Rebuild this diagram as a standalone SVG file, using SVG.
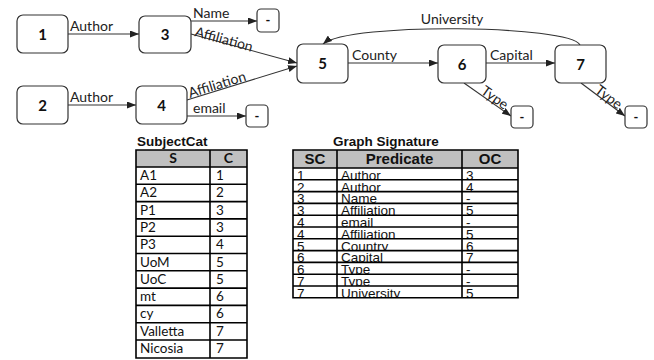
<svg xmlns="http://www.w3.org/2000/svg" width="654" height="360" viewBox="0 0 654 360">
  <style>
    .node rect { fill: #ffffff; stroke: #333333; stroke-width: 1.2; }
    .node text { font-family: Lato, "Open Sans", sans-serif; font-weight: bold; font-size: 15px; fill: #111111; text-anchor: middle; }
    .leaf text { font-size: 13px; }
    .edge { fill: none; stroke: #333333; stroke-width: 1.1; marker-end: url(#arrow); }
    .elabel { font-family: Lato, "Open Sans", sans-serif; font-size: 14px; fill: #222222; }
    .title { font-family: "Liberation Sans", Arial, sans-serif; font-weight: bold; font-size: 13.5px; fill: #111111; }
    .hdr { fill: #c0c0c0; }
    .grid { fill: none; stroke: #000000; stroke-width: 1.6; }
    .sc { font-family: Lato, "Open Sans", sans-serif; font-size: 13.5px; fill: #111111; }
    .sch { font-family: Lato, "Open Sans", sans-serif; font-weight: bold; font-size: 14px; fill: #111111; text-anchor: middle; }
    .gs { font-family: "Liberation Sans", Arial, sans-serif; font-size: 13.5px; fill: #111111; }
    .gs rect { fill: #ffffff; }
    .gsh { font-family: "Liberation Sans", Arial, sans-serif; font-weight: bold; font-size: 15px; fill: #111111; text-anchor: middle; }
  </style>
  <defs>
    <marker id="arrow" markerUnits="userSpaceOnUse" markerWidth="9" markerHeight="7" refX="9" refY="3.5" orient="auto">
      <path d="M0,0 L9,3.5 L0,7 z" fill="#222222"/>
    </marker>
  </defs>

  <rect width="654" height="360" fill="#ffffff"/>

  <!-- connectors -->
  <g id="connectors">
    <path class="edge" d="M68,34 H139"/>
    <path class="edge" d="M68,105 H136"/>
    <path class="edge" d="M191,21 H257"/>
    <path class="edge" d="M191,34 L297,63"/>
    <path class="edge" d="M187,100 L297,66"/>
    <path class="edge" d="M187,116 H246"/>
    <path class="edge" d="M348,63 H438"/>
    <path class="edge" d="M486,63 H555"/>
    <path class="edge" d="M464,83 L511,116"/>
    <path class="edge" d="M581,83 L625,116"/>
    <path class="edge" d="M580,45 C570,25 350,22 323,44"/>

    <text class="elabel" x="70" y="31">Author</text>
    <text class="elabel" x="70" y="102">Author</text>
    <text class="elabel" x="193" y="18">Name</text>
    <text class="elabel" transform="translate(194,36) rotate(15.3)">Affiliation</text>
    <text class="elabel" transform="translate(190,98) rotate(-17.2)">Affiliation</text>
    <text class="elabel" x="193" y="113">email</text>
    <text class="elabel" x="352" y="60">County</text>
    <text class="elabel" x="490" y="60">Capital</text>
    <text class="elabel" x="452" y="24" text-anchor="middle">University</text>
    <text class="elabel" transform="translate(480,93) rotate(35)">Type</text>
    <text class="elabel" transform="translate(594,92) rotate(37)">Type</text>
  </g>

  <!-- nodes -->
  <g id="n1" class="node"><rect x="17" y="15" width="51" height="38" rx="6"/><text x="42.5" y="40">1</text></g>
  <g id="n3" class="node"><rect x="139" y="16" width="52" height="37" rx="6"/><text x="165" y="40">3</text></g>
  <g id="n2" class="node"><rect x="17" y="86" width="51" height="38" rx="6"/><text x="42.5" y="111">2</text></g>
  <g id="n4" class="node"><rect x="136" y="86" width="51" height="38" rx="6"/><text x="161.5" y="111">4</text></g>
  <g id="n5" class="node"><rect x="297" y="44" width="51" height="39" rx="6"/><text x="322.5" y="69">5</text></g>
  <g id="n6" class="node"><rect x="438" y="45" width="48" height="38" rx="6"/><text x="462" y="70">6</text></g>
  <g id="n7" class="node"><rect x="555" y="45" width="51" height="38" rx="6"/><text x="580.5" y="70">7</text></g>
  <g id="name-val" class="node leaf"><rect x="257" y="9" width="22" height="23" rx="4"/><text x="268" y="25">-</text></g>
  <g id="email-val" class="node leaf"><rect x="246" y="105" width="22" height="22" rx="4"/><text x="257" y="121">-</text></g>
  <g id="type6-val" class="node leaf"><rect x="511" y="106" width="22" height="22" rx="4"/><text x="522" y="122">-</text></g>
  <g id="type7-val" class="node leaf"><rect x="625" y="106" width="22" height="22" rx="4"/><text x="636" y="122">-</text></g>

  <!-- SubjectCat table -->
  <g id="subjectcat">
    <text class="title" x="137" y="146">SubjectCat</text>
    <rect class="hdr" x="136" y="150" width="111" height="17"/>
    <text class="sch" x="173" y="163">S</text>
    <text class="sch" x="228.5" y="163">C</text>
    <g class="sc">
      <text x="140" y="180">A1</text><text x="216" y="180">1</text>
      <text x="140" y="197.3">A2</text><text x="216" y="197.3">2</text>
      <text x="140" y="214.6">P1</text><text x="216" y="214.6">3</text>
      <text x="140" y="231.9">P2</text><text x="216" y="231.9">3</text>
      <text x="140" y="249.2">P3</text><text x="216" y="249.2">4</text>
      <text x="140" y="266.5">UoM</text><text x="216" y="266.5">5</text>
      <text x="140" y="283.8">UoC</text><text x="216" y="283.8">5</text>
      <text x="140" y="301.1">mt</text><text x="216" y="301.1">6</text>
      <text x="140" y="318.4">cy</text><text x="216" y="318.4">6</text>
      <text x="140" y="335.7">Valletta</text><text x="216" y="335.7">7</text>
      <text x="140" y="353">Nicosia</text><text x="216" y="353">7</text>
    </g>
    <path class="grid" d="M136,150 H247 V358 H136 Z M210,150 V358 M136,167 H247 M136,184.3 H247 M136,201.6 H247 M136,218.9 H247 M136,236.2 H247 M136,253.5 H247 M136,270.8 H247 M136,288.1 H247 M136,305.4 H247 M136,322.7 H247 M136,340 H247"/>
  </g>

  <!-- Graph Signature table: each row's white band hides the descenders of the row above -->
  <g id="graph-signature">
    <text class="title" x="333" y="146">Graph Signature</text>
    <rect class="hdr" x="293" y="150" width="225" height="18"/>
    <text class="gsh" x="315" y="164">SC</text>
    <text class="gsh" x="399.5" y="164">Predicate</text>
    <text class="gsh" x="490" y="164">OC</text>
    <g class="gs">
      <rect x="293" y="168" width="225" height="11.8"/>
      <text x="297" y="179.8">1</text><text x="341" y="179.8">Author</text><text x="466" y="179.8">3</text>
      <rect x="293" y="179.8" width="225" height="11.8"/>
      <text x="297" y="191.6">2</text><text x="341" y="191.6">Author</text><text x="466" y="191.6">4</text>
      <rect x="293" y="191.6" width="225" height="11.8"/>
      <text x="297" y="203.4">3</text><text x="341" y="203.4">Name</text><text x="466" y="203.4">-</text>
      <rect x="293" y="203.4" width="225" height="11.8"/>
      <text x="297" y="215.2">3</text><text x="341" y="215.2">Affiliation</text><text x="466" y="215.2">5</text>
      <rect x="293" y="215.2" width="225" height="11.8"/>
      <text x="297" y="227">4</text><text x="341" y="227">email</text><text x="466" y="227">-</text>
      <rect x="293" y="227" width="225" height="11.8"/>
      <text x="297" y="238.8">4</text><text x="341" y="238.8">Affiliation</text><text x="466" y="238.8">5</text>
      <rect x="293" y="238.8" width="225" height="11.8"/>
      <text x="297" y="250.6">5</text><text x="341" y="250.6">Country</text><text x="466" y="250.6">6</text>
      <rect x="293" y="250.6" width="225" height="11.8"/>
      <text x="297" y="262.4">6</text><text x="341" y="262.4">Capital</text><text x="466" y="262.4">7</text>
      <rect x="293" y="262.4" width="225" height="11.8"/>
      <text x="297" y="274.2">6</text><text x="341" y="274.2">Type</text><text x="466" y="274.2">-</text>
      <rect x="293" y="274.2" width="225" height="11.8"/>
      <text x="297" y="286">7</text><text x="341" y="286">Type</text><text x="466" y="286">-</text>
      <rect x="293" y="286" width="225" height="11.8"/>
      <text x="297" y="297.8">7</text><text x="341" y="297.8">University</text><text x="466" y="297.8">5</text>
      <rect x="290" y="297.8" width="232" height="6"/>
    </g>
    <path class="grid" d="M293,150 H518 V297.8 H293 Z M337,150 V297.8 M462,150 V297.8 M293,168 H518 M293,179.8 H518 M293,191.6 H518 M293,203.4 H518 M293,215.2 H518 M293,227 H518 M293,238.8 H518 M293,250.6 H518 M293,262.4 H518 M293,274.2 H518 M293,286 H518"/>
  </g>
</svg>
